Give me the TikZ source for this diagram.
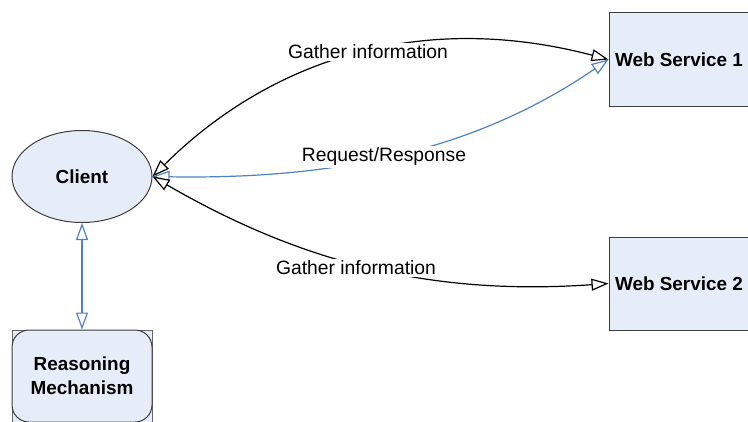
\documentclass[tikz,border=0pt]{standalone}
\usepackage{fontspec}
\setmainfont{Liberation Sans}
\usetikzlibrary{shapes.geometric, arrows.meta}
\definecolor{boxfill}{RGB}{231,237,248}
\definecolor{linkblue}{RGB}{79,129,189}
\definecolor{edge}{RGB}{60,60,60}

\begin{document}
\begin{tikzpicture}[x=1pt, y=-1pt,
    txt/.style={font=\fontsize{19.3}{24}\selectfont},
    entity/.style={draw=edge, fill=boxfill, line width=1pt, font=\fontsize{18.9}{24}\selectfont\bfseries,
        minimum width=140pt, inner sep=0pt, align=center},
    twoway/.style={line width=1.2pt,
        {Triangle[fill=white, length=17pt, width=12pt]}-{Triangle[fill=white, length=17pt, width=12pt]}},
    tag/.style={txt, fill=white, inner sep=2pt}]
    \useasboundingbox (0,0) rectangle (748,421);
    \clip (0,0) rectangle (748,421);
    % Client and its reasoning part
    \draw[gray!80!black, fill=boxfill, line width=1pt] (12,330) rectangle (152,440);
    \node[entity, ellipse, minimum height=92pt] (client) at (82,176.5) {Client};
    \node[entity, rounded corners=17pt, minimum height=92pt] (reason) at (82,376) {Reasoning\\Mechanism};
    % Web services
    \node[entity, minimum height=94pt] (ws1) at (679,59.5) {Web Service 1};
    \node[entity, minimum height=93pt] (ws2) at (679,283.5) {Web Service 2};
    % Links
    \draw[twoway, linkblue] (client) -- (reason);
    \draw[twoway] (client.east) .. controls (270,60) and (420,10) .. (ws1.west);
    \draw[twoway, linkblue] (client.east) .. controls (352,180) and (485,144) .. (ws1.west);
    \draw[twoway] (client.east) .. controls (300,262) and (430,296) .. (ws2.west);
    % Labels on the links
    \node[tag] (gatherA) at (368,52) {Gather information};
    \node[tag] (reqres) at (384,157) {Request/Response};
    \node[tag] (gatherB) at (356,268) {Gather information};
\end{tikzpicture}
\end{document}
